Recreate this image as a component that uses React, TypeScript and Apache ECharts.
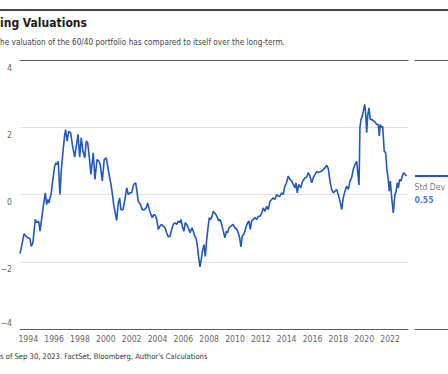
import React, { useEffect, useRef } from "react";
import * as echarts from "echarts";

const titleText = "ing Valuations";
const subtitleText = "he valuation of the 60/40 portfolio has compared to itself over the long-term.";
const footerText = "s of Sep 30, 2023. FactSet, Bloomberg, Author's Calculations";
const legendName = "Std Dev";
const legendValue = 0.55;

const xTickYears = [1994, 1996, 1998, 2000, 2002, 2004, 2006, 2008, 2010, 2012, 2014, 2016, 2018, 2020, 2022];
const yTicksBelow = [4, 2, 0, -2];
const yTicksAbove = [-4];

const years = [
  1993.36, 1993.51, 1993.67, 1993.82, 1993.98, 1994.13, 1994.23, 1994.36, 1994.54, 1994.67, 1994.8, 1994.91,
  1995.06, 1995.22, 1995.32, 1995.42, 1995.52, 1995.6, 1995.78, 1995.89,
  1996.04, 1996.14, 1996.24, 1996.32, 1996.45, 1996.55, 1996.69, 1996.82, 1996.89,
  1997.0, 1997.13, 1997.28, 1997.41, 1997.59, 1997.72, 1997.85, 1997.98,
  1998.1, 1998.23, 1998.37, 1998.49, 1998.6, 1998.7, 1998.85,
  1999.03, 1999.16, 1999.32, 1999.47, 1999.57, 1999.73, 1999.88,
  2000.04, 2000.19, 2000.3, 2000.4, 2000.5, 2000.61, 2000.71, 2000.84, 2000.97,
  2001.07, 2001.17, 2001.33, 2001.48, 2001.62, 2001.74, 2001.87,
  2002.0, 2002.16, 2002.31, 2002.41, 2002.51, 2002.67, 2002.82, 2002.98,
  2003.13, 2003.24, 2003.37, 2003.5, 2003.6, 2003.71, 2003.81, 2003.94,
  2004.06, 2004.19, 2004.33, 2004.45, 2004.58, 2004.71, 2004.84, 2004.97,
  2005.1, 2005.22, 2005.35, 2005.49, 2005.61, 2005.74, 2005.82, 2005.95,
  2006.05, 2006.15, 2006.26, 2006.38, 2006.52, 2006.67, 2006.77, 2006.88, 2006.98,
  2007.08, 2007.19, 2007.29, 2007.39, 2007.5, 2007.6, 2007.7, 2007.81, 2007.91,
  2008.01, 2008.12, 2008.22, 2008.32, 2008.43, 2008.53, 2008.64, 2008.74, 2008.85, 2008.97,
  2009.09, 2009.22, 2009.33, 2009.43, 2009.53, 2009.69, 2009.84,
  2010.0, 2010.15, 2010.25, 2010.36, 2010.46, 2010.56, 2010.67, 2010.77, 2010.87, 2010.98,
  2011.08, 2011.18, 2011.29, 2011.41, 2011.55, 2011.68, 2011.8, 2011.93,
  2012.07, 2012.19, 2012.32, 2012.45, 2012.58, 2012.71, 2012.84, 2012.96,
  2013.09, 2013.23, 2013.35, 2013.47, 2013.61, 2013.73, 2013.86, 2013.99,
  2014.12, 2014.26, 2014.39, 2014.51, 2014.64, 2014.72, 2014.82, 2014.93,
  2015.08, 2015.24, 2015.42, 2015.55, 2015.67, 2015.8, 2015.94,
  2016.06, 2016.19, 2016.32, 2016.45, 2016.58, 2016.71, 2016.83, 2016.96,
  2017.1, 2017.22, 2017.35, 2017.48, 2017.61, 2017.74, 2017.87, 2017.99,
  2018.13, 2018.26, 2018.38, 2018.51, 2018.64, 2018.77, 2018.9,
  2019.03, 2019.15, 2019.29, 2019.42, 2019.5, 2019.6, 2019.67, 2019.75, 2019.85, 2019.96,
  2020.04, 2020.11, 2020.19, 2020.27, 2020.37, 2020.47, 2020.58, 2020.7, 2020.83, 2020.97,
  2021.09, 2021.17, 2021.24, 2021.35, 2021.43, 2021.55, 2021.66, 2021.76, 2021.86, 2021.94,
  2022.02, 2022.13, 2022.25, 2022.38, 2022.48, 2022.56, 2022.64, 2022.75, 2022.85, 2022.95,
  2023.06, 2023.16, 2023.29,
];

const values = [
  -1.76, -1.49, -1.17, -1.24, -1.29, -1.31, -1.54, -1.44, -0.74, -0.84, -0.79, -1.09,
  -0.65, -0.2, 0.05, -0.3, -0.15, -0.25, 0.05, 0.4,
  0.84, 0.94, 0.89, 0.99, 0.0, 0.69, 1.29, 1.79, 1.93,
  1.59, 1.88, 1.83, 1.49, 1.11, 1.44, 1.79, 1.11,
  1.69, 1.29, 1.09, 1.59, 1.54, 1.19, 0.6,
  1.24, 0.45, 1.04, 0.99, 0.89, 0.4, 1.04,
  1.09, 0.74, 0.5, 0.3, 0.05, -0.3, -0.5, -0.77, -0.25,
  -0.1, -0.45, -0.45, -0.15, 0.2, 0.0, 0.05,
  0.05, 0.3, 0.35, 0.1, -0.2, -0.28, -0.45, -0.45,
  -0.4, -0.25, -0.45, -0.6, -0.69, -0.6, -0.6, -0.74,
  -1.04, -0.94, -0.89, -0.94, -0.99, -1.14, -1.26, -1.24,
  -1.04, -0.89, -0.84, -0.89, -0.79, -0.84, -0.74, -0.99,
  -1.09, -0.84, -0.89, -0.99, -1.14, -0.99, -1.09, -1.24, -1.29,
  -1.49, -1.88, -2.15, -1.93, -1.64, -1.49, -1.84, -1.34, -0.99,
  -0.69, -0.74, -0.65, -0.5, -0.55, -0.6, -0.69, -0.79, -0.74, -0.89,
  -1.09, -1.29, -1.09, -1.14, -0.99, -0.94, -0.89,
  -0.99, -1.04, -1.14, -1.29, -1.56, -1.24, -1.19, -1.09, -0.94, -0.84,
  -0.79, -1.04, -0.79, -0.74, -0.69, -0.74, -0.65, -0.65,
  -0.55, -0.4, -0.5, -0.35, -0.45, -0.2, -0.15, -0.1,
  -0.15, 0.0, -0.05, -0.05, 0.05, 0.0, 0.25, 0.35,
  0.55, 0.45, 0.4, 0.3, 0.2, 0.35, 0.05, 0.3,
  0.2, 0.4, 0.5, 0.52, 0.65, 0.55, 0.35,
  0.5, 0.6, 0.69, 0.65, 0.68, 0.69, 0.74, 0.79,
  0.87, 0.77, 0.4, 0.15, 0.05, 0.1, 0.15, 0.0,
  -0.2, -0.45, -0.1, 0.1, 0.25, 0.15, 0.4,
  0.5, 0.74, 0.89, 0.99, 0.65, 0.28, 1.99, 2.23, 2.33, 2.53,
  2.68, 2.43, 1.84, 2.33, 2.58, 2.23, 2.23, 2.2, 2.16, 2.08,
  2.08, 1.74, 2.08, 1.99, 2.03, 1.29, 1.24, 0.74, 0.45, 0.1,
  0.4, -0.1, -0.55, 0.0, 0.1, 0.35, 0.2, 0.45, 0.4, 0.55,
  0.65, 0.6, 0.55,
];

const FONT = "'DejaVu Sans Condensed', 'Liberation Sans Narrow', 'Roboto', sans-serif";
const BLUE = "#2458bd";
const DARK = "#5a5a5a";
const GRID = "#e3e3e3";

const fmtNum = (v: number) => String(v).replace("-", "\u2212");

export default function App() {
  const ref = useRef<HTMLDivElement>(null);

  useEffect(() => {
    document.body.style.margin = "0";
    if (!ref.current) return;
    const chart = echarts.init(ref.current, undefined, { renderer: "svg" });
    const lineData = years.map((y, i) => [y, values[i]]);
    const yMin = -4;
    const yMax = 4;
    const frameAxis = (gridIndex: number, position: string, min: number, max: number) => ({
      type: "value",
      gridIndex,
      position,
      min,
      max,
      axisLine: { show: true, onZero: false, lineStyle: { color: DARK, width: 1 } },
      axisTick: { show: false },
      axisLabel: { show: false },
      splitLine: { show: false },
    });

    chart.setOption({
      animation: false,
      backgroundColor: "#ffffff",
      textStyle: { fontFamily: FONT },
      title: [
        {
          text: titleText,
          left: 0,
          top: 17,
          padding: 0,
          textStyle: { fontFamily: FONT, fontSize: 12, fontWeight: "bold", color: "#1a1a1a" },
        },
        {
          text: subtitleText,
          left: 0,
          top: 38,
          padding: 0,
          textStyle: { fontFamily: FONT, fontSize: 8.2, fontWeight: "normal", color: "#444444" },
        },
        {
          text: footerText,
          left: 0,
          top: 352,
          padding: 0,
          textStyle: { fontFamily: FONT, fontSize: 7.6, fontWeight: "normal", color: "#333333" },
        },
      ],
      graphic: [
        {
          type: "line",
          shape: { x1: 0, y1: 10, x2: 448, y2: 10 },
          style: { stroke: "#444444", lineWidth: 2 },
          silent: true,
        },
      ],
      grid: [
        { left: 20, right: 40, top: 60, bottom: 45, containLabel: false, outerBoundsMode: "none" },
        { left: 415, right: 0, top: 60, bottom: 45, containLabel: false, outerBoundsMode: "none" },
      ],
      xAxis: [
        {
          type: "value",
          gridIndex: 0,
          position: "bottom",
          min: 1993.36,
          max: 2023.39,
          axisLine: { show: true, onZero: false, lineStyle: { color: DARK, width: 1 } },
          axisTick: { show: false },
          splitLine: { show: false },
          axisLabel: {
            customValues: xTickYears,
            formatter: (v: number) => String(Math.round(v)),
            color: "#666666",
            fontFamily: FONT,
            fontSize: 8.6,
            margin: 5,
          },
        },
        frameAxis(0, "top", 1993.36, 2023.39),
        frameAxis(1, "bottom", 0, 1),
        frameAxis(1, "top", 0, 1),
      ],
      yAxis: [
        {
          type: "value",
          gridIndex: 0,
          position: "left",
          min: yMin,
          max: yMax,
          interval: 2,
          axisLine: { show: false },
          axisTick: { show: false },
          splitLine: { show: true, lineStyle: { color: GRID, width: 1 } },
          axisLabel: {
            customValues: yTicksBelow,
            formatter: fmtNum,
            color: "#666666",
            fontFamily: FONT,
            fontSize: 8.6,
            margin: 8,
            verticalAlign: "top",
            padding: [3, 0, 0, 0],
          },
        },
        {
          type: "value",
          gridIndex: 0,
          position: "left",
          min: yMin,
          max: yMax,
          interval: 2,
          axisLine: { show: false },
          axisTick: { show: false },
          splitLine: { show: false },
          axisLabel: {
            customValues: yTicksAbove,
            formatter: fmtNum,
            color: "#666666",
            fontFamily: FONT,
            fontSize: 8.6,
            margin: 8,
            verticalAlign: "bottom",
            padding: [0, 0, 2, 0],
          },
        },
        {
          type: "value",
          gridIndex: 1,
          min: yMin,
          max: yMax,
          interval: 2,
          axisLine: { show: false },
          axisTick: { show: false },
          axisLabel: { show: false },
          splitLine: { show: false },
        },
      ],
      series: [
        {
          type: "line",
          xAxisIndex: 0,
          yAxisIndex: 0,
          data: lineData,
          showSymbol: false,
          symbol: "none",
          lineStyle: { color: BLUE, width: 1.6 },
          z: 5,
        },
        {
          type: "line",
          xAxisIndex: 2,
          yAxisIndex: 2,
          data: [
            [0, legendValue],
            [1, legendValue],
          ],
          showSymbol: false,
          symbol: "none",
          lineStyle: { color: BLUE, width: 2 },
        },
        {
          type: "scatter",
          xAxisIndex: 2,
          yAxisIndex: 2,
          data: [[0, legendValue]],
          symbolSize: 1,
          itemStyle: { color: "transparent" },
          label: {
            show: true,
            position: [0, 5],
            align: "left",
            verticalAlign: "top",
            formatter: () => `{a|${legendName}}\n{b|${legendValue.toFixed(2)}}`,
            rich: {
              a: { fontFamily: FONT, fontSize: 8.6, color: "#555555", lineHeight: 13 },
              b: { fontFamily: FONT, fontSize: 8.6, fontWeight: "bold", color: BLUE, lineHeight: 13 },
            },
          },
        },
      ],
    });

    return () => chart.dispose();
  }, []);

  return <div ref={ref} style={{ width: 448, height: 374 }} />;
}
